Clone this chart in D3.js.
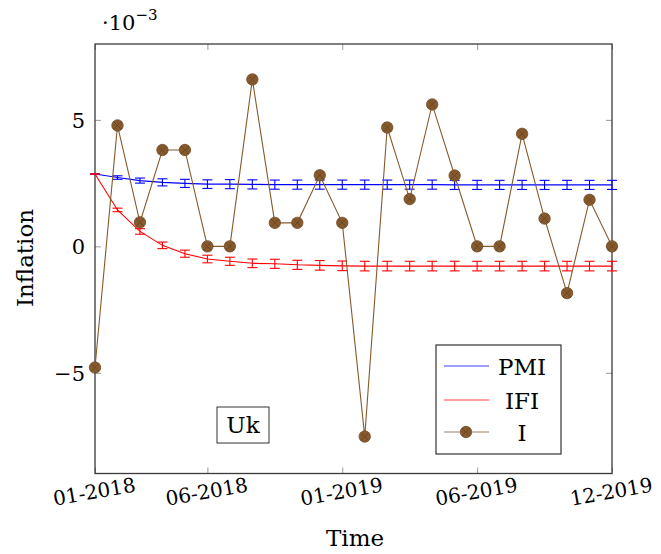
<!DOCTYPE html>
<html>
<head>
<meta charset="utf-8">
<script src="https://cdn.jsdelivr.net/npm/d3@7"></script>
<style>
  html, body { margin: 0; padding: 0; background: #fff; }
  svg { display: block; }
  text { font-family: "DejaVu Serif", serif; fill: #000; }
</style>
</head>
<body>
<svg id="chart" width="661" height="554"></svg>
<script>
// Monthly observations, index 0 = 01-2018 ... 23 = 12-2019 (values in units of 1e-3)
const months = d3.range(24);
const pmi    = [2.86, 2.72, 2.60, 2.53, 2.49, 2.46, 2.46, 2.45, 2.44, 2.44, 2.44, 2.44,
                2.44, 2.44, 2.44, 2.44, 2.43, 2.43, 2.43, 2.43, 2.43, 2.43, 2.43, 2.43];
const pmiErr = [0.00, 0.07, 0.10, 0.14, 0.16, 0.17, 0.18, 0.18, 0.18, 0.18, 0.18, 0.18,
                0.18, 0.18, 0.18, 0.18, 0.18, 0.18, 0.18, 0.18, 0.18, 0.18, 0.18, 0.18];
const ifi    = [2.86, 1.44, 0.59, 0.04, -0.29, -0.50, -0.59, -0.67, -0.69, -0.73, -0.75, -0.77,
                -0.78, -0.78, -0.78, -0.78, -0.78, -0.78, -0.78, -0.78, -0.78, -0.78, -0.78, -0.78];
const ifiErr = [0.00, 0.07, 0.11, 0.13, 0.14, 0.15, 0.16, 0.17, 0.18, 0.18, 0.19, 0.19,
                0.19, 0.19, 0.19, 0.19, 0.19, 0.19, 0.19, 0.19, 0.19, 0.19, 0.19, 0.19];
const inflation = [-4.79, 4.78, 0.95, 3.81, 3.81, 0.00, 0.00, 6.60, 0.93, 0.93, 2.81, 0.93,
                   -7.52, 4.70, 1.87, 5.61, 2.80, 0.00, 0.00, 4.45, 1.10, -1.85, 1.84, 0.00];
const xTickIdx    = [0, 5, 11, 17, 23];
const xTickLabels = ["01-2018", "06-2018", "01-2019", "06-2019", "12-2019"];
const yTicks      = [-5, 0, 5];

const FONT = "DejaVu Serif";
const svg = d3.select("#chart");
const L = 95, R = 612, T = 44, B = 473.5;

const x = d3.scaleLinear().domain([0, 23]).range([L, R]);
const y = d3.scaleLinear().domain([-8.98, 8.0]).range([B, T]);

const brown = "#865a2d";

// inner ticks on all four sides
const tickColor = "#9a9a9a";
function styleTicks(g) {
  g.attr("font-family", FONT);
  g.select(".domain").remove();
  g.selectAll(".tick line").attr("stroke", tickColor).attr("stroke-width", 1);
}
svg.append("g").attr("transform", `translate(0,${B})`)
  .call(d3.axisBottom(x).tickValues(xTickIdx).tickSizeInner(-6).tickSizeOuter(0)
        .tickFormat((d, i) => xTickLabels[i]))
  .call(styleTicks)
  .call(g => g.selectAll(".tick text")
    .attr("y", 0).attr("dy", 0)
    .attr("transform", "translate(0,25) rotate(-10)")
    .attr("text-anchor", "middle")
    .style("font-size", "20px")
    .attr("fill", "#000"));
svg.append("g").attr("transform", `translate(0,${T})`)
  .call(d3.axisTop(x).tickValues(xTickIdx).tickSizeInner(-6).tickSizeOuter(0).tickFormat(""))
  .call(styleTicks);
svg.append("g").attr("transform", `translate(${L},0)`)
  .call(d3.axisLeft(y).tickValues(yTicks).tickSizeInner(-6).tickSizeOuter(0)
        .tickFormat(d => d < 0 ? "\u2212" + Math.abs(d) : String(d)))
  .call(styleTicks)
  .call(g => g.selectAll(".tick text")
    .attr("x", -10).attr("dy", "0.36em")
    .style("font-size", "21px")
    .attr("fill", "#000"));
svg.append("g").attr("transform", `translate(${R},0)`)
  .call(d3.axisRight(y).tickValues(yTicks).tickSizeInner(-6).tickSizeOuter(0).tickFormat(""))
  .call(styleTicks);

// plot frame
svg.append("rect")
  .attr("x", L).attr("y", T).attr("width", R - L).attr("height", B - T)
  .attr("fill", "none").attr("stroke", "#3a3a3a").attr("stroke-width", 1.3);

// scale factor above the y axis
const sf = svg.append("text").attr("x", 102).attr("y", 30).style("font-size", "21px");
sf.append("tspan").text("\u00b710");
sf.append("tspan").attr("dy", -10).style("font-size", "15px").text("\u22123");

// axis titles
svg.append("text").attr("x", 355).attr("y", 546).attr("text-anchor", "middle")
  .style("font-size", "23px").text("Time");
svg.append("text").attr("transform", "translate(33,258) rotate(-90)")
  .attr("text-anchor", "middle")
  .style("font-size", "23px").text("Inflation");

const plot = svg.append("g");
const line = d3.line().x((d, i) => x(i)).y(d => y(d));

function errorSeries(vals, errs, color) {
  plot.append("path").datum(vals).attr("d", line)
    .attr("fill", "none").attr("stroke", color).attr("stroke-width", 1.1);
  const eb = plot.append("g").attr("stroke", color).attr("stroke-width", 1.1);
  months.forEach(i => {
    const cx = x(i), y1 = y(vals[i] + errs[i]), y2 = y(vals[i] - errs[i]);
    eb.append("line").attr("x1", cx).attr("x2", cx).attr("y1", y1).attr("y2", y2);
    eb.append("line").attr("x1", cx - 5).attr("x2", cx + 5).attr("y1", y1).attr("y2", y1);
    eb.append("line").attr("x1", cx - 5).attr("x2", cx + 5).attr("y1", y2).attr("y2", y2);
  });
}
errorSeries(pmi, pmiErr, "#0000ff");
errorSeries(ifi, ifiErr, "#ff0000");

// crossed circle marker
function marker(g, cx, cy) {
  const r = 5.7, k = r * 0.7071;
  g.append("circle").attr("cx", cx).attr("cy", cy).attr("r", r)
    .attr("fill", brown).attr("stroke", "#6e4a25").attr("stroke-width", 0.8);
  g.append("path")
    .attr("d", `M${cx - k},${cy - k}L${cx + k},${cy + k}M${cx - k},${cy + k}L${cx + k},${cy - k}`)
    .attr("stroke", "#5a3a1a").attr("stroke-width", 0.7).attr("opacity", 0.8);
}

plot.append("path").datum(inflation).attr("d", line)
  .attr("fill", "none").attr("stroke", brown).attr("stroke-width", 1.1);
const mk = plot.append("g");
inflation.forEach((v, i) => marker(mk, x(i), y(v)));

// country tag
svg.append("rect").attr("x", 217).attr("y", 407).attr("width", 52).attr("height", 36)
  .attr("fill", "#fff").attr("stroke", "#333").attr("stroke-width", 1);
svg.append("text").attr("x", 243).attr("y", 433).attr("text-anchor", "middle")
  .style("font-size", "23px").text("Uk");

// legend
const lg = svg.append("g");
lg.append("rect").attr("x", 436).attr("y", 345).attr("width", 125).attr("height", 109)
  .attr("fill", "#fff").attr("stroke", "#333").attr("stroke-width", 1.2);
const entries = [
  { name: "PMI", color: "#0000ff", yy: 366, mark: false },
  { name: "IFI", color: "#ff0000", yy: 400, mark: false },
  { name: "I",   color: brown,     yy: 432, mark: true }
];
entries.forEach(e => {
  lg.append("line").attr("x1", 444).attr("x2", 489).attr("y1", e.yy).attr("y2", e.yy)
    .attr("stroke", e.color).attr("stroke-width", 1.1).attr("opacity", 0.75);
  if (e.mark) marker(lg, 466, e.yy);
  lg.append("text").attr("x", 522).attr("y", e.yy + 8.5).attr("text-anchor", "middle")
    .style("font-size", "23px").text(e.name);
});
</script>
</body>
</html>
